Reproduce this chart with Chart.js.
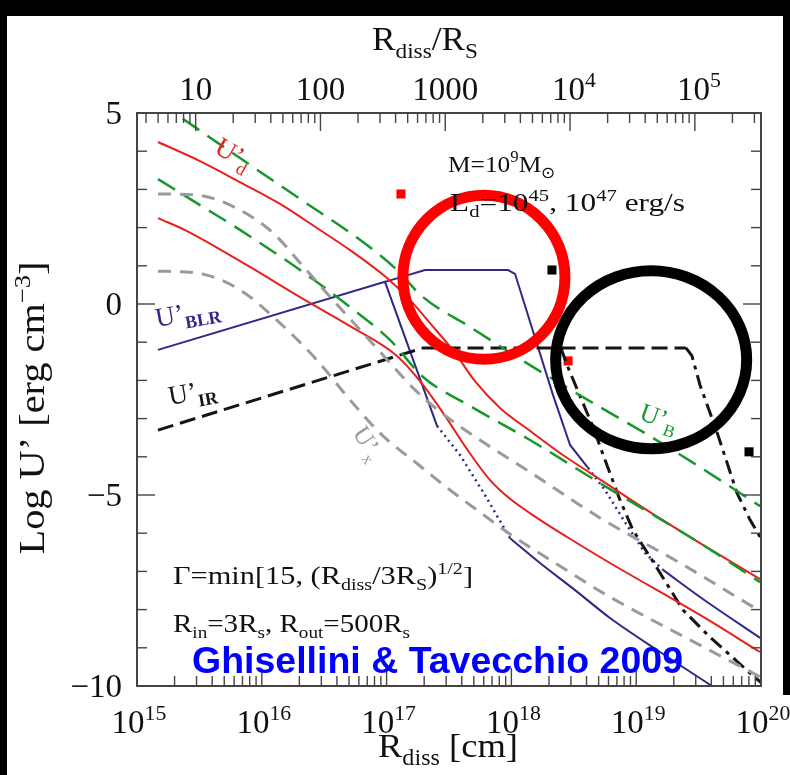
<!DOCTYPE html>
<html>
<head>
<meta charset="utf-8">
<script src="https://cdn.jsdelivr.net/npm/chart.js@4.4.0/dist/chart.umd.min.js"></script>
<style>
html,body{margin:0;padding:0;background:#fff;}
#caja{position:relative;width:790px;height:775px;}
</style>
</head>
<body>
<div id="caja"><canvas id="energia"></canvas></div>
<script>

/* DATOS: log R_diss [cm] y log U' [erg cm^-3] */

const RS_LOG = 14.47; // log R_S para M = 1e9 Msun

// U'_B (verde)
const ub1X = [15.168,15.321,15.825,16.306,16.811,17.067,17.292,17.668,18.149,18.710,19.111,19.511,19.992];
const ub1Y = [5.29,4.95,3.82,2.75,1.62,0.94,0.18,-0.60,-1.60,-2.70,-3.46,-4.27,-5.29];
const ub2X = [15.168,15.505,15.825,16.306,16.707,17.027,17.292,17.668,18.149,18.710,19.511,19.992];
const ub2Y = [3.27,2.59,1.94,0.89,-0.08,-0.94,-1.91,-2.67,-3.56,-4.69,-6.26,-7.28];

// U'_d (rojo)
const ud47X = [15.168,15.505,15.825,16.146,16.442,16.707,17.003,17.188,17.348,17.548,17.708,17.909,18.149,18.389,18.630,19.111,19.511,19.992];
const ud47Y = [4.24,3.74,3.19,2.62,1.99,1.41,0.68,0.10,-0.50,-1.28,-2.02,-2.72,-3.32,-3.90,-4.42,-5.45,-6.26,-7.20];
const ud45X = [15.168,15.401,15.905,16.306,16.707,17.083,17.268,17.452,17.644,17.829,17.989,18.229,18.446,18.790,19.511,19.992];
const ud45Y = [2.25,1.91,0.97,0.18,-0.58,-1.36,-2.02,-2.85,-3.80,-4.61,-5.10,-5.65,-6.10,-6.78,-8.14,-9.11];

// U'_x (gris)
const ux1X = [15.168,15.481,15.825,16.090,16.330,16.571,16.811,17.027,17.228,17.452,17.748,18.149,18.710,19.351,19.992];
const ux1Y = [2.88,2.85,2.46,1.86,0.99,0.10,-0.76,-1.54,-2.25,-2.88,-3.56,-4.40,-5.60,-6.78,-8.04];
const ux2X = [15.168,15.481,15.825,16.146,16.442,16.707,16.947,17.268,17.508,17.748,17.965,18.389,18.790,19.511,19.992];
const ux2Y = [0.86,0.81,0.37,-0.50,-1.47,-2.51,-3.38,-4.24,-4.87,-5.45,-5.97,-6.86,-7.67,-8.93,-9.76];

// U'_BLR (azul)
const blr45aX = [15.168,16.987,17.404];
const blr45aY = [-1.20,0.58,-3.19];
const blr45bX = [17.404,17.588,17.788,17.989];
const blr45bY = [-3.19,-3.95,-5.00,-6.13];
const blr45cX = [17.989,18.229,18.510,18.790,19.191,19.607];
const blr45cY = [-6.13,-6.78,-7.49,-8.22,-9.11,-10.0];
const blr47aX = [16.987,17.308,17.973,18.029,18.165,18.333,18.470,18.614];
const blr47aY = [0.58,0.89,0.89,0.79,-0.63,-2.38,-3.69,-4.29];
const blr47bX = [18.614,18.750,18.910,19.071,19.215];
const blr47bY = [-4.29,-4.87,-5.71,-6.52,-6.96];
const blr47cX = [19.215,19.511,19.992];
const blr47cY = [-6.96,-7.67,-8.74];

// U'_IR (negro)
const irX = [15.168,17.292,19.399];
const irY = [-3.30,-1.15,-1.15];
const ir45X = [18.397,18.446,18.550,18.654,18.750,18.870,18.974,19.111,19.375,19.591,19.912,20.032];
const ir45Y = [-1.15,-1.60,-2.41,-3.22,-4.08,-5.13,-5.92,-6.62,-8.01,-8.72,-9.66,-10.0];
const ir47X = [19.399,19.447,19.511,19.647,19.808,19.912,20.008,20.112];
const ir47Y = [-1.15,-1.36,-2.12,-3.35,-4.95,-5.65,-6.18,-6.83];

// marcas cuadradas
const rojoX = [17.115,18.454];
const rojoY = [2.88,-1.49];
const negroX = [18.325,19.904];
const negroY = [0.89,-3.87];

// etiquetas de ejes
const ticksX = [15,16,17,18,19,20];
const ticksXsup = ['15','16','17','18','19','20'];
const ticksTop = [['10',''],['100',''],['1000',''],['10','4'],['10','5']];
const ticksY = [5,0,-5,-10];
const ticksYtxt = ['5','0','\u22125','\u221210'];

/* COLORES */
const ROJO = '#e8201c', VERDE = '#17982c', GRIS = '#9a9a9a', AZUL = '#2e2888', NEGRO = '#151515';
const SERIF = '"Liberation Serif", serif';

function pts(xs, ys){ return xs.map((x,i) => ({x:x, y:ys[i]})); }

function linea(xs, ys, color, ancho, guion, suave){
  return {
    data: pts(xs, ys), borderColor: color, borderWidth: ancho, borderDash: guion || [],
    pointRadius: 0, fill: false, tension: 0,
    cubicInterpolationMode: suave ? 'monotone' : 'default'
  };
}

function marca(xs, ys, color){
  return { data: pts(xs, ys), showLine: false, pointStyle: 'rect', pointRadius: 6.4,
    pointBackgroundColor: color, pointBorderWidth: 0, borderColor: color };
}

/* texto con sub/superindices: [texto, 0|1|-1, 'bold ']; 'largo' = ancho total deseado */
function escribe(c, partes, x, y, tam, fam, color, alinea, largo){
  c.save();
  c.fillStyle = color; c.textBaseline = 'alphabetic'; c.textAlign = 'left';
  const fuente = p => (p[2] || '') + (p[1] ? tam*0.66 : tam) + 'px ' + fam;
  const anchos = partes.map(p => { c.font = fuente(p); return c.measureText(p[0]).width; });
  const bruto = anchos.reduce((a,b) => a+b, 0);
  const est = largo ? largo / bruto : 1;
  const total = bruto * est;
  let x0 = alinea === 'center' ? x - total/2 : alinea === 'right' ? x - total : x;
  partes.forEach((p,i) => {
    c.font = fuente(p);
    const dy = p[1] === 1 ? -tam*0.40 : p[1] === -1 ? tam*0.24 : 0;
    c.save(); c.translate(x0, y + dy); c.scale(est, 1); c.fillText(p[0], 0, 0); c.restore();
    x0 += anchos[i] * est;
  });
  c.restore();
}

function girado(c, x, y, ang, fn){
  c.save(); c.translate(x, y); c.rotate(ang*Math.PI/180); fn(); c.restore();
}

/* MARCO, TICKS, TEXTOS */
const marco = {
  id: 'marco',
  beforeDraw(chart){
    const c = chart.ctx, W = chart.width, H = chart.height;
    c.save();
    c.fillStyle = '#fff'; c.fillRect(0, 0, W, H);
    c.fillStyle = '#000';
    c.fillRect(0, 0, W, 16); c.fillRect(0, 0, 7, H); c.fillRect(783, 0, W-783, 695);
    c.restore();
  },
  afterDraw(chart){
    const c = chart.ctx, a = chart.chartArea, sx = chart.scales.x, sy = chart.scales.y;
    c.save();
    // circulos
    c.lineWidth = 11;
    c.strokeStyle = '#ff0000';
    c.beginPath(); c.ellipse(sx.getPixelForValue(17.78), sy.getPixelForValue(0.70), 81, 82, 0, 0, 2*Math.PI); c.stroke();
    c.strokeStyle = '#000';
    c.beginPath(); c.ellipse(sx.getPixelForValue(19.12), sy.getPixelForValue(-1.46), 95.5, 89, 0, 0, 2*Math.PI); c.stroke();

    // marco
    c.strokeStyle = '#444'; c.lineWidth = 2;
    c.strokeRect(a.left, a.top, a.right - a.left, a.bottom - a.top);
    c.lineWidth = 1.4;
    const tick = (x1,y1,x2,y2) => { c.beginPath(); c.moveTo(x1,y1); c.lineTo(x2,y2); c.stroke(); };
    // abajo
    for (let d = 15; d < 20; d++){
      for (let m = 1; m < 10; m++){
        const px = sx.getPixelForValue(d + Math.log10(m));
        if (m > 1 || d > 15) tick(px, a.bottom, px, a.bottom - (m === 1 ? 18 : 10));
      }
    }
    // arriba (R/Rs)
    for (let d = 0; d < 6; d++){
      for (let m = 1; m < 10; m++){
        const v = RS_LOG + d + Math.log10(m);
        if (v <= 15 || v >= 20) continue;
        const px = sx.getPixelForValue(v);
        tick(px, a.top, px, a.top + (m === 1 ? 18 : 10));
      }
    }
    // izquierda y derecha
    for (let v = -9; v < 5; v++){
      const py = sy.getPixelForValue(v);
      const L = v % 5 === 0 ? 18 : 10;
      tick(a.left, py, a.left + L, py);
      tick(a.right, py, a.right - L, py);
    }

    // numeros de ejes
    const tk = 33;
    ticksX.forEach((v,i) => escribe(c, [['10',0],[ticksXsup[i],1]], sx.getPixelForValue(v) + 2, 733, tk, SERIF, '#111', 'center'));
    ticksTop.forEach((t,i) => {
      const px = sx.getPixelForValue(RS_LOG + 1 + i);
      escribe(c, [[t[0],0],[t[1],1]], px + (t[1] ? 4 : 0), 100, tk, SERIF, '#111', 'center');
    });
    ticksY.forEach((v,i) => escribe(c, [[ticksYtxt[i],0]], 122, sy.getPixelForValue(v) + 11, tk, SERIF, '#111', 'right'));

    // titulos de ejes
    escribe(c, [['R',0],['diss',-1],[' [cm]',0]], 448, 757, 34, SERIF, '#111', 'center', 140);
    escribe(c, [['R',0],['diss',-1],['/R',0],['S',-1]], 425, 50, tk, SERIF, '#111', 'center', 106);
    girado(c, 44, 408, -90, () => escribe(c, [['Log U\u2019 [erg cm',0],['\u22123',1],[']',0]], 0, 0, 35, SERIF, '#111', 'center', 293));

    // textos dentro
    escribe(c, [['M=10',0],['9',1],['M',0],['\u2299',-1]], 448, 172, 24, SERIF, '#111', 'left', 107);
    escribe(c, [['L',0],['d',-1],['=10',0],['45',1],[', 10',0],['47',1],[' erg/s',0]], 450, 211, 25, SERIF, '#111', 'left', 235);
    escribe(c, [['\u0393=min[15, (R',0],['diss',-1],['/3R',0],['S',-1],[')',0],['1/2',1],[']',0]], 173, 584, 25, SERIF, '#111', 'left', 300);
    escribe(c, [['R',0],['in',-1],['=3R',0],['s',-1],[', R',0],['out',-1],['=500R',0],['s',-1]], 173, 632, 25, SERIF, '#111', 'left', 237);
    escribe(c, [['Ghisellini & Tavecchio 2009',0,'bold ']], 192, 673, 37, '"Liberation Sans", Arial, sans-serif', '#0000ff', 'left', 491);

    // nombres de las curvas
    const tc = 27;
    girado(c, 213, 152, 30, () => escribe(c, [['U\u2019',0],['d',-1]], 0, 0, tc, SERIF, ROJO, 'left'));
    girado(c, 157, 327, -10, () => escribe(c, [['U\u2019',0],['BLR',-1,'bold ']], 0, 0, tc, SERIF, AZUL, 'left'));
    girado(c, 170, 405, -10, () => escribe(c, [['U\u2019',0],['IR',-1,'bold ']], 0, 0, tc, SERIF, NEGRO, 'left'));
    girado(c, 352, 433, 57, () => escribe(c, [['U\u2019',0],['x',-1]], 0, 0, 25, SERIF, GRIS, 'left'));
    girado(c, 638, 419, 20, () => escribe(c, [['U\u2019',0],['B',-1]], 0, 0, 26, SERIF, VERDE, 'left'));
    c.restore();
  }
};

/* GRAFICA */
const ctx1 = document.getElementById('energia');

new Chart(ctx1, {
  type: 'line',
  data: {
    datasets: [
      linea(ux1X, ux1Y, GRIS, 3, [13,9], true),
      linea(ux2X, ux2Y, GRIS, 3, [13,9], true),
      linea(ub1X, ub1Y, VERDE, 2.5, [20,10], true),
      linea(ub2X, ub2Y, VERDE, 2.5, [20,10], true),
      linea(ud47X, ud47Y, ROJO, 2, null, true),
      linea(ud45X, ud45Y, ROJO, 2, null, true),
      linea(irX, irY, NEGRO, 3, [16,7]),
      linea(ir45X, ir45Y, NEGRO, 3, [14,6,4,6]),
      linea(ir47X, ir47Y, NEGRO, 3, [14,6,4,6]),
      linea(blr45aX, blr45aY, AZUL, 2),
      linea(blr45bX, blr45bY, AZUL, 2.5, [2,4]),
      linea(blr45cX, blr45cY, AZUL, 2, null, true),
      linea(blr47aX, blr47aY, AZUL, 2),
      linea(blr47bX, blr47bY, AZUL, 2.5, [2,4]),
      linea(blr47cX, blr47cY, AZUL, 2, null, true),
      marca(rojoX, rojoY, '#ff0000'),
      marca(negroX, negroY, '#000')
    ]
  },
  options: {
    responsive: true, maintainAspectRatio: false, animation: false, devicePixelRatio: 1,
    layout: { padding: { left: 137, right: 29, top: 113, bottom: 89 } },
    plugins: { legend: { display: false }, tooltip: { enabled: false } },
    scales: {
      x: { type: 'linear', min: 15, max: 20, display: false },
      y: { type: 'linear', min: -10, max: 5, display: false }
    }
  },
  plugins: [marco]
});

</script>
</body>
</html>
